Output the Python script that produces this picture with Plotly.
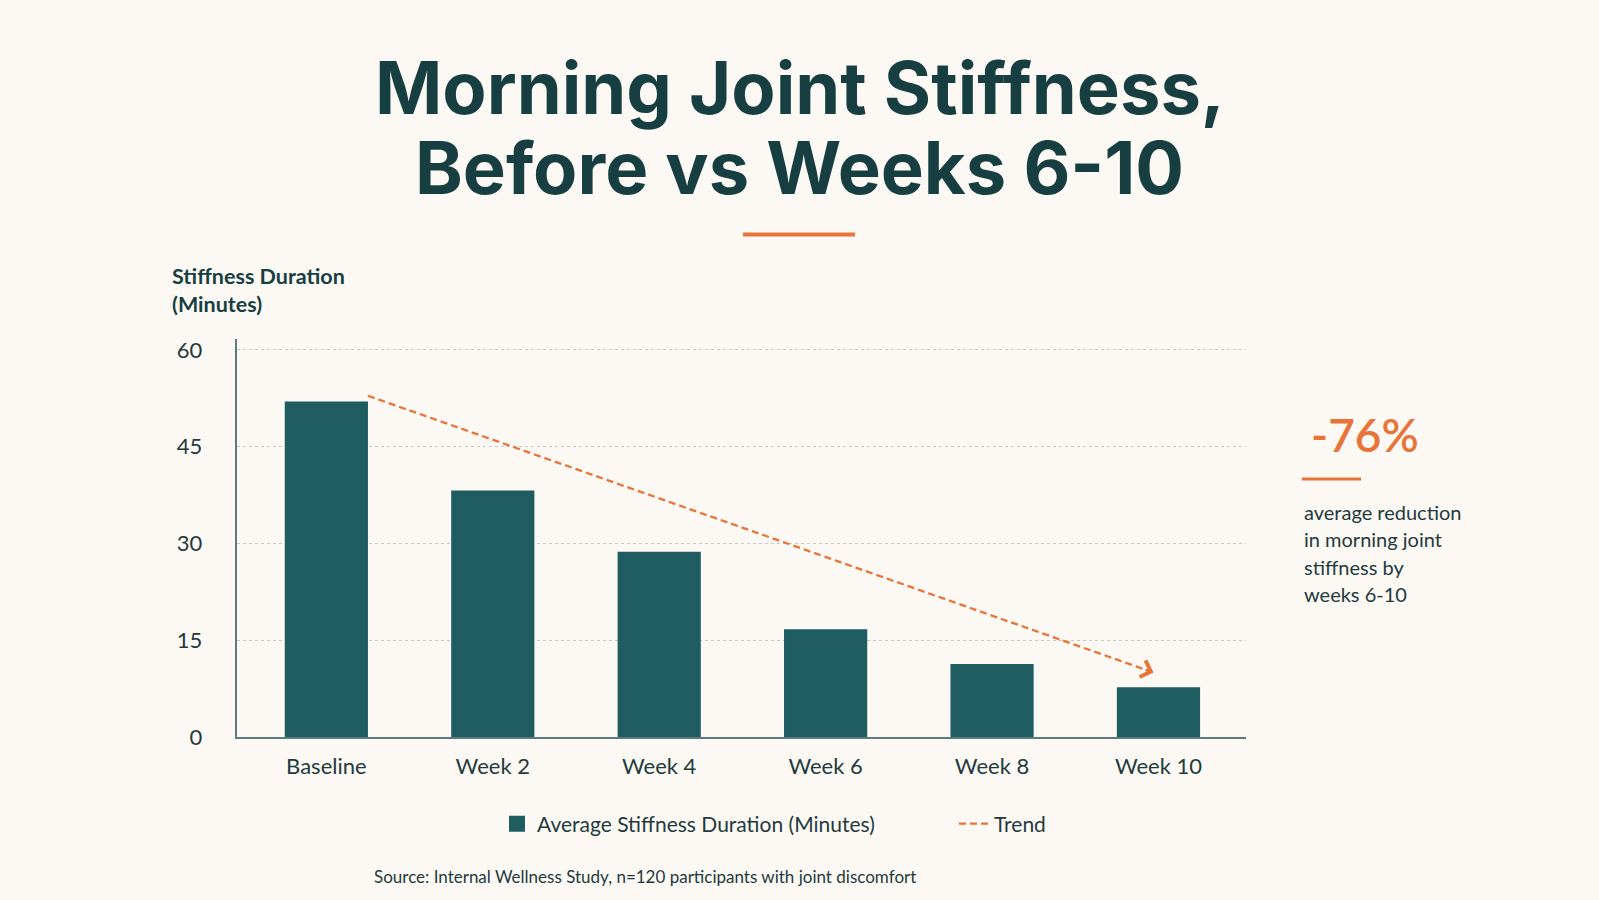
import plotly.graph_objects as go

# ---------------- data ----------------
categories = ["Baseline", "Week 2", "Week 4", "Week 6", "Week 8", "Week 10"]
stiffness_minutes = [52.0, 38.2, 28.7, 16.7, 11.3, 7.7]
trend_x = [0.25, 4.97]          # category-axis positions of trend start / end
trend_y = [52.9, 10.0]          # trend values (minutes)
y_ticks = [0, 15, 30, 45, 60]
headline_value = "-76%"
headline_text = ["average reduction", "in morning joint", "stiffness by", "weeks 6-10"]
title_lines = ["Morning Joint Stiffness,", "Before vs Weeks 6-10"]
y_title = "Stiffness Duration<br>(Minutes)"
bar_name = "Average Stiffness Duration (Minutes)"
trend_name = "Trend"
source_text = "Source: Internal Wellness Study, n=120 participants with joint discomfort"

# ---------------- style ----------------
BG = "#fcf9f4"
TITLE = "#173f42"
BAR = "#1f5d63"
ORANGE = "#e8743a"
TEXT = "#233a3d"
GRID = "#c6c8c3"
AXIS = "#5c7b7d"
FONT = "Lato"
TITLE_FONT = "Inter"

W, H = 1599, 900


def px(x):
    return x / W


def py(y):
    return 1 - y / H


fig = go.Figure()

fig.add_trace(go.Bar(
    x=list(range(len(categories))),
    y=stiffness_minutes,
    width=0.5,
    marker=dict(color=BAR, line=dict(width=0)),
    name=bar_name,
    showlegend=False,
    hoverinfo="skip",
))

# legend entry for the bars (larger square swatch)
fig.add_trace(go.Scatter(
    x=[None], y=[None], mode="markers",
    marker=dict(symbol="square", size=16, color=BAR),
    name=bar_name,
))

fig.add_trace(go.Scatter(
    x=trend_x,
    y=trend_y,
    mode="lines",
    line=dict(color=ORANGE, width=2.3, dash="7px,4px"),
    name=trend_name,
    hoverinfo="skip",
))

# arrowhead at the end of the trend line
dx = trend_x[1] - trend_x[0]
dy = trend_y[1] - trend_y[0]
fig.add_annotation(
    x=trend_x[1], y=trend_y[1], xref="x", yref="y",
    ax=trend_x[1] - dx * 0.012, ay=trend_y[1] - dy * 0.012, axref="x", ayref="y",
    text="", showarrow=True, arrowhead=4, arrowsize=1.7, arrowwidth=2,
    arrowcolor=ORANGE, standoff=0,
)

# title (two lines)
fig.add_annotation(text=title_lines[0], x=0.5, y=py(88), xref="paper", yref="paper",
                   xanchor="center", yanchor="middle", showarrow=False,
                   font=dict(family=TITLE_FONT, size=72.3, color=TITLE, weight=700))
fig.add_annotation(text=title_lines[1], x=0.5, y=py(167), xref="paper", yref="paper",
                   xanchor="center", yanchor="middle", showarrow=False,
                   font=dict(family=TITLE_FONT, size=72.3, color=TITLE, weight=700))

# y-axis title
fig.add_annotation(text=y_title, x=px(170), y=py(290), xref="paper", yref="paper",
                   xanchor="left", yanchor="middle", align="left", showarrow=False,
                   font=dict(family=FONT, size=21.5, color=TITLE, weight=700))

# headline stat
fig.add_annotation(text=headline_value, x=px(1309), y=py(434), xref="paper", yref="paper",
                   xanchor="left", yanchor="middle", showarrow=False,
                   font=dict(family=FONT, size=46, color=ORANGE, weight=600))
line_y = [511.5, 539, 566.5, 594]
for txt, yy in zip(headline_text, line_y):
    fig.add_annotation(text=txt, x=px(1302), y=py(yy), xref="paper", yref="paper",
                       xanchor="left", yanchor="middle", align="left", showarrow=False,
                       font=dict(family=FONT, size=20, color=TEXT))

# source
fig.add_annotation(text=source_text, x=px(645), y=py(876), xref="paper", yref="paper",
                   xanchor="center", yanchor="middle", showarrow=False,
                   font=dict(family=FONT, size=17, color=TEXT))

# decorative rules
fig.add_shape(type="line", xref="paper", yref="paper", x0=px(743), x1=px(855), y0=py(234.5), y1=py(234.5),
              line=dict(color=ORANGE, width=4))
fig.add_shape(type="line", xref="paper", yref="paper", x0=px(1302), x1=px(1361), y0=py(479), y1=py(479),
              line=dict(color=ORANGE, width=3))

fig.update_layout(
    width=W, height=H,
    autosize=False,
    margin=dict(l=0, r=0, t=0, b=0, pad=0, autoexpand=False),
    paper_bgcolor=BG, plot_bgcolor=BG,
    font=dict(family=FONT, color=TEXT),
    showlegend=True,
    legend=dict(orientation="h", x=px(497), y=py(824), xanchor="left", yanchor="middle",
                font=dict(family=FONT, size=21, color=TEXT), entrywidth=412,
                bgcolor="rgba(0,0,0,0)", traceorder="normal"),
    xaxis=dict(domain=[px(237), px(1246)], range=[-0.537, 5.526],
               tickvals=list(range(len(categories))), ticktext=categories,
               showgrid=False, showline=True, linecolor=AXIS, linewidth=1.5,
               ticks="outside", ticklen=9, tickcolor="rgba(0,0,0,0)", automargin=False,
               tickfont=dict(family=FONT, size=22, color=TEXT), zeroline=False),
    yaxis=dict(domain=[py(737), py(339)], range=[0, 61.7], tickvals=y_ticks,
               showgrid=True, gridcolor=GRID, griddash="dot", gridwidth=1,
               showline=True, linecolor=AXIS, linewidth=1.5, automargin=False,
               ticks="outside", ticklen=28.5, tickcolor="rgba(0,0,0,0)",
               tickfont=dict(family=FONT, size=22, color=TEXT), zeroline=False),
)

fig.write_html("out.html")
